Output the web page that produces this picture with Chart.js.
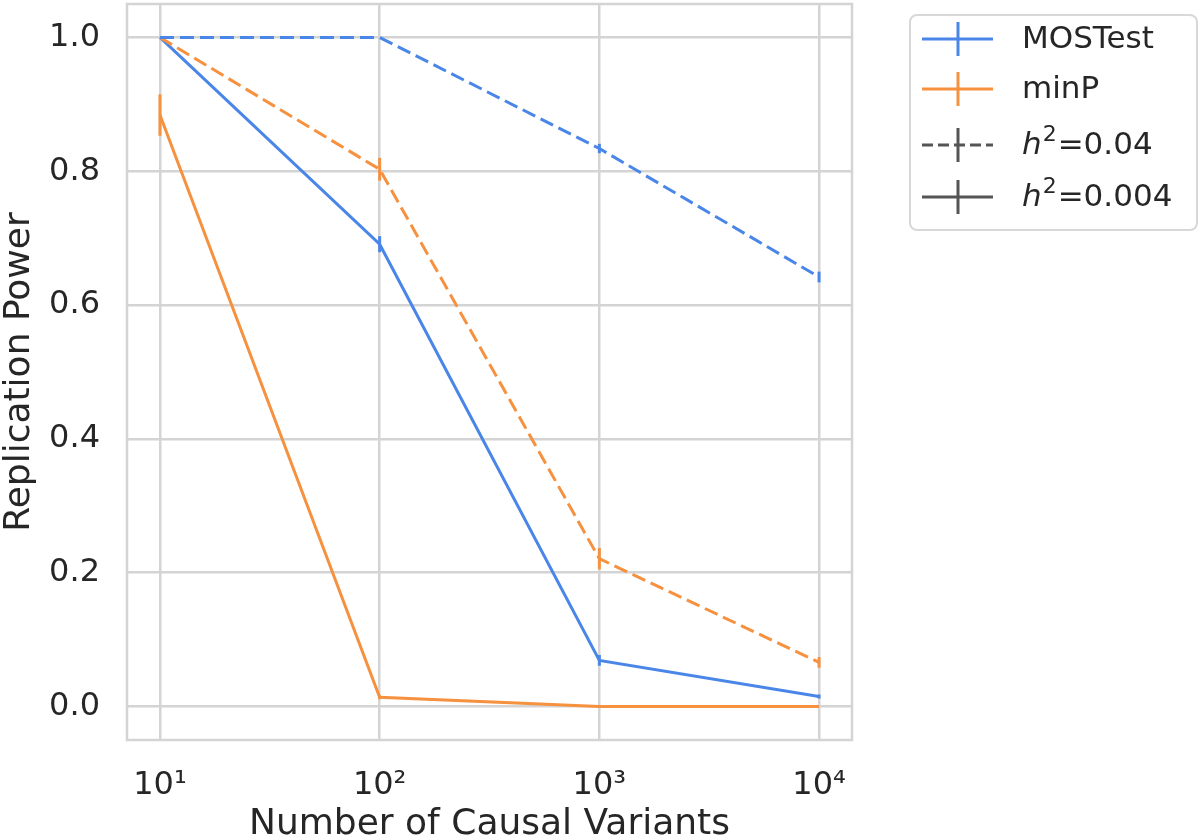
<!DOCTYPE html>
<html>
<head>
<meta charset="utf-8">
<script src="https://cdn.jsdelivr.net/npm/chart.js@4"></script>
<style>
  html, body { margin: 0; padding: 0; background: #fff; }
  #wrap { width: 1200px; height: 840px; }
</style>
</head>
<body>
<div id="wrap"><canvas id="powerChart" width="1200" height="840"></canvas></div>
<script>
// data
const causalVariants = [10, 100, 1000, 10000];
const xTickLabels = ['10\u00b9', '10\u00b2', '10\u00b3', '10\u2074'];
const yTickValues = [0.0, 0.2, 0.4, 0.6, 0.8, 1.0];

// h2 = 0.04 (dashed)
const mostestHigh = [1.0, 1.0, 0.834, 0.642];
const mostestHighErr = [0, 0, 0.007, 0.008];
const minpHigh = [1.0, 0.803, 0.221, 0.066];
const minpHighErr = [0, 0.017, 0.016, 0.008];

// h2 = 0.004 (solid)
const mostestLow = [1.0, 0.691, 0.069, 0.015];
const mostestLowErr = [0, 0.012, 0.008, 0.003];
const minpLow = [0.884, 0.014, 0.0, 0.0];
const minpLowErr = [0.031, 0.003, 0, 0];

const legendLabels = ['MOSTest', 'minP', '0.04', '0.004'];

const BLUE = '#4a86e8';
const ORANGE = '#f5913f';
const GRAY = '#555555';
const GRID = '#d4d4d4';
const TEXT = '#262626';
const FONT = "'DejaVu Sans', sans-serif";
const DASH = [14, 6];

function toPoints(ys) {
    return causalVariants.map((x, i) => ({ x: x, y: ys[i] }));
}

function makeSet(label, ys, errs, color, dashed) {
    return {
        label: label,
        data: toPoints(ys),
        errors: errs,
        borderColor: color,
        backgroundColor: color,
        borderWidth: 3,
        borderDash: dashed ? DASH : [],
        pointRadius: 0,
        tension: 0,
        fill: false
    };
}

// plot frame (all four spines)
const framePlugin = {
    id: 'frame',
    beforeDatasetsDraw(chart) {
        const a = chart.chartArea;
        const ctx = chart.ctx;
        ctx.save();
        ctx.strokeStyle = GRID;
        ctx.lineWidth = 2.5;
        ctx.strokeRect(a.left, a.top, a.right - a.left, a.bottom - a.top);
        ctx.restore();
    }
};

// vertical error bars, no caps
const errorBarPlugin = {
    id: 'errorBars',
    afterDatasetsDraw(chart) {
        const ctx = chart.ctx;
        const xs = chart.scales.x;
        const ys = chart.scales.y;
        ctx.save();
        chart.data.datasets.forEach(ds => {
            ctx.strokeStyle = ds.borderColor;
            ctx.lineWidth = 3;
            ds.data.forEach((p, i) => {
                const e = ds.errors[i];
                if (!e) return;
                const px = xs.getPixelForValue(p.x);
                ctx.beginPath();
                ctx.moveTo(px, ys.getPixelForValue(p.y - e));
                ctx.lineTo(px, ys.getPixelForValue(p.y + e));
                ctx.stroke();
            });
        });
        ctx.restore();
    }
};

// legend box on the right, matplotlib style
const legendPlugin = {
    id: 'sideLegend',
    afterDraw(chart) {
        const ctx = chart.ctx;
        ctx.save();
        // box
        const bx = 910, by = 15, bw = 287, bh = 215, r = 7;
        ctx.beginPath();
        ctx.moveTo(bx + r, by);
        ctx.arcTo(bx + bw, by, bx + bw, by + bh, r);
        ctx.arcTo(bx + bw, by + bh, bx, by + bh, r);
        ctx.arcTo(bx, by + bh, bx, by, r);
        ctx.arcTo(bx, by, bx + bw, by, r);
        ctx.closePath();
        ctx.fillStyle = '#ffffff';
        ctx.fill();
        ctx.strokeStyle = '#d8d8d8';
        ctx.lineWidth = 2;
        ctx.stroke();

        const rows = [
            { y: 39, color: BLUE, dash: [] },
            { y: 89, color: ORANGE, dash: [] },
            { y: 145, color: GRAY, dash: [11, 5] },
            { y: 197, color: GRAY, dash: [] }
        ];
        const x0 = 922, x1 = 993, xm = 958, tx = 1022;
        rows.forEach((row, i) => {
            ctx.strokeStyle = row.color;
            ctx.lineWidth = 3;
            ctx.setLineDash(row.dash);
            ctx.beginPath();
            ctx.moveTo(x0, row.y);
            ctx.lineTo(x1, row.y);
            ctx.stroke();
            ctx.setLineDash([]);
            ctx.beginPath();
            ctx.moveTo(xm, row.y - 17);
            ctx.lineTo(xm, row.y + 17);
            ctx.stroke();

            ctx.fillStyle = TEXT;
            ctx.textBaseline = 'middle';
            ctx.textAlign = 'left';
            if (i < 2) {
                ctx.font = '31px ' + FONT;
                ctx.fillText(legendLabels[i], tx, row.y + 1);
            } else {
                // h^2=value
                let x = tx;
                ctx.font = 'italic 31px ' + FONT;
                ctx.fillText('h', x, row.y + 1);
                x += ctx.measureText('h').width + 1;
                ctx.font = '22px ' + FONT;
                ctx.fillText('2', x, row.y - 10);
                x += ctx.measureText('2').width + 1;
                ctx.font = '31px ' + FONT;
                ctx.fillText('=' + legendLabels[i], x, row.y + 1);
            }
        });
        ctx.restore();
    }
};

const ctx = document.getElementById('powerChart').getContext('2d');
const powerChart = new Chart(ctx, {
    type: 'line',
    data: {
        datasets: [
            makeSet('MOSTest h2=0.04', mostestHigh, mostestHighErr, BLUE, true),
            makeSet('minP h2=0.04', minpHigh, minpHighErr, ORANGE, true),
            makeSet('MOSTest h2=0.004', mostestLow, mostestLowErr, BLUE, false),
            makeSet('minP h2=0.004', minpLow, minpLowErr, ORANGE, false)
        ]
    },
    options: {
        responsive: false,
        animation: false,
        devicePixelRatio: 1,
        layout: { padding: { top: 4, right: 348, left: 0, bottom: 0 } },
        plugins: {
            legend: { display: false },
            tooltip: { enabled: false }
        },
        scales: {
            x: {
                type: 'logarithmic',
                min: Math.pow(10, 0.85),
                max: Math.pow(10, 4.15),
                grid: { color: GRID, lineWidth: 2.5, drawTicks: false },
                border: { display: false },
                ticks: {
                    autoSkip: false,
                    maxRotation: 0,
                    padding: 26,
                    color: TEXT,
                    font: { family: FONT, size: 32 },
                    callback: function(value) {
                        const i = causalVariants.indexOf(value);
                        return i >= 0 ? xTickLabels[i] : '';
                    }
                },
                afterBuildTicks: function(scale) {
                    scale.ticks = causalVariants.map(v => ({ value: v }));
                },
                afterFit: function(scale) {
                    scale.height = 100;
                    scale.paddingLeft = 0;
                    scale.paddingRight = 0;
                },
                title: {
                    display: true,
                    text: 'Number of Causal Variants',
                    color: TEXT,
                    font: { family: FONT, size: 36, lineHeight: 0.84 },
                    padding: { top: 0, bottom: 0 }
                }
            },
            y: {
                type: 'linear',
                min: -0.05,
                max: 1.05,
                grid: { color: GRID, lineWidth: 2.5, drawTicks: false },
                border: { display: false },
                ticks: {
                    padding: 27,
                    color: TEXT,
                    font: { family: FONT, size: 32 },
                    callback: function(value) {
                        return value.toFixed(1);
                    }
                },
                afterBuildTicks: function(scale) {
                    scale.ticks = yTickValues.map(v => ({ value: v }));
                },
                afterFit: function(scale) {
                    scale.width = 127;
                    scale.paddingTop = 0;
                    scale.paddingBottom = 0;
                },
                title: {
                    display: true,
                    text: 'Replication Power',
                    color: TEXT,
                    font: { family: FONT, size: 36, lineHeight: 1.1 },
                    padding: { top: 0, bottom: 0 }
                }
            }
        }
    },
    plugins: [framePlugin, errorBarPlugin, legendPlugin]
});
</script>
</body>
</html>
